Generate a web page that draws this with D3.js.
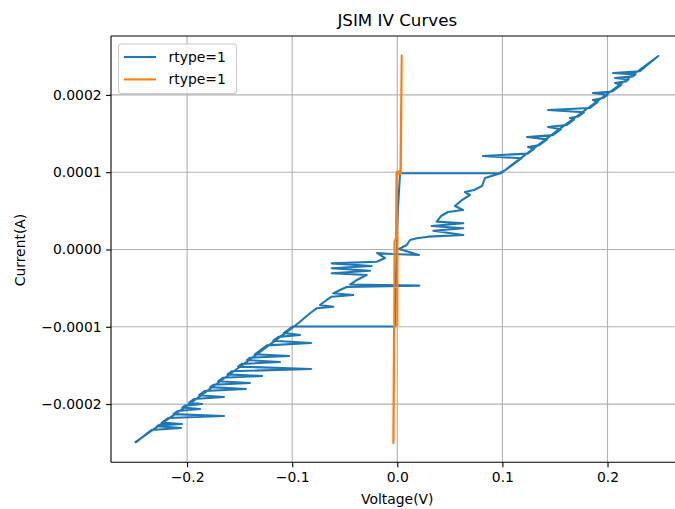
<!DOCTYPE html>
<html>
<head>
<meta charset="utf-8">
<script src="https://cdn.jsdelivr.net/npm/d3@7"></script>
<style>
  html, body { margin: 0; padding: 0; background: #ffffff; }
  svg { display: block; font-family: "DejaVu Sans", sans-serif; }
</style>
</head>
<body>
<svg id="chart" width="675" height="509"></svg>
<script>
// ---- data (voltage in V, current in A) ----
const seriesNames = ["rtype=1", "rtype=1"];
const xTicks = [-0.2, -0.1, 0.0, 0.1, 0.2];
const yTicks = [-0.0002, -0.0001, 0.0, 0.0001, 0.0002];
const xDomain = [-0.2724, 0.2724];
const yDomain = [-0.0002753, 0.0002762];

const blueCurve = [
  [-0.2480,-2.486e-4],
  [-0.2340,-2.335e-4],[-0.2058,-2.309e-4],[-0.2285,-2.285e-4],
  [-0.2275,-2.275e-4],[-0.2049,-2.257e-4],[-0.2240,-2.240e-4],
  [-0.2180,-2.180e-4],[-0.1649,-2.154e-4],[-0.2130,-2.130e-4],
  [-0.2090,-2.090e-4],[-0.1877,-2.063e-4],[-0.2045,-2.045e-4],
  [-0.2020,-2.020e-4],[-0.1858,-1.999e-4],[-0.1980,-1.980e-4],
  [-0.1935,-1.935e-4],[-0.1649,-1.908e-4],[-0.1885,-1.885e-4],
  [-0.1830,-1.830e-4],[-0.1440,-1.805e-4],[-0.1780,-1.780e-4],
  [-0.1750,-1.750e-4],[-0.1402,-1.727e-4],[-0.1705,-1.705e-4],
  [-0.1660,-1.660e-4],[-0.1286,-1.637e-4],[-0.1615,-1.615e-4],
  [-0.1575,-1.575e-4],[-0.0821,-1.546e-4],[-0.1515,-1.515e-4],
  [-0.1480,-1.480e-4],[-0.1116,-1.455e-4],[-0.1430,-1.430e-4],
  [-0.1400,-1.400e-4],[-0.1030,-1.378e-4],[-0.1355,-1.355e-4],
  [-0.1240,-1.240e-4],[-0.0821,-1.210e-4],[-0.1180,-1.180e-4],
  [-0.1130,-1.130e-4],[-0.0926,-1.106e-4],[-0.1080,-1.080e-4],
  [-0.0996,-0.996e-4],
  [-0.0022,-0.996e-4],
  [-0.0015,-0.500e-4],[0.0005,0.500e-4],[0.0026,0.986e-4],
  [0.0970,0.986e-4],
  [0.1030,1.030e-4],
  [0.1180,1.180e-4],[0.0815,1.210e-4],[0.1240,1.240e-4],
  [0.1300,1.300e-4],[0.1244,1.326e-4],[0.1350,1.350e-4],
  [0.1425,1.425e-4],[0.1234,1.455e-4],[0.1480,1.480e-4],
  [0.1555,1.555e-4],[0.1434,1.585e-4],[0.1610,1.610e-4],
  [0.1680,1.680e-4],[0.1643,1.701e-4],[0.1720,1.720e-4],
  [0.1775,1.775e-4],[0.1434,1.805e-4],[0.1830,1.830e-4],
  [0.1905,1.905e-4],[0.1862,1.934e-4],[0.1960,1.960e-4],
  [0.2000,2.000e-4],[0.1862,2.025e-4],[0.2045,2.045e-4],
  [0.2130,2.130e-4],[0.2072,2.154e-4],[0.2175,2.175e-4],
  [0.2200,2.200e-4],[0.2072,2.219e-4],[0.2240,2.240e-4],
  [0.2265,2.265e-4],[0.2053,2.283e-4],[0.2305,2.305e-4],
  [0.2483,2.503e-4],
  [0.2000,2.015e-4],[0.1500,1.515e-4],[0.0990,0.990e-4],
  [0.0834,0.925e-4],[0.0806,0.821e-4],[0.0730,0.770e-4],[0.0644,0.744e-4],
  [0.0691,0.705e-4],[0.0615,0.640e-4],[0.0549,0.563e-4],[0.0625,0.511e-4],
  [0.0482,0.485e-4],[0.0416,0.433e-4],[0.0375,0.360e-4],[0.0628,0.339e-4],
  [0.0327,0.304e-4],[0.0628,0.274e-4],[0.0343,0.243e-4],[0.0628,0.188e-4],
  [0.0295,0.166e-4],[0.0185,0.145e-4],[0.0121,0.123e-4],[0.0089,0.058e-4],
  [0.0016,0.006e-4],[0.0206,-0.071e-4],[-0.0050,-0.058e-4],[-0.0193,-0.045e-4],
  [-0.0117,-0.110e-4],[-0.0196,-0.158e-4],[-0.0624,-0.179e-4],[-0.0244,-0.213e-4],
  [-0.0624,-0.243e-4],[-0.0260,-0.274e-4],[-0.0624,-0.308e-4],[-0.0291,-0.330e-4],
  [-0.0386,-0.395e-4],[-0.0450,-0.453e-4],[0.0209,-0.468e-4],[-0.0481,-0.485e-4],
  [-0.0545,-0.524e-4],[-0.0609,-0.567e-4],[-0.0419,-0.589e-4],[-0.0624,-0.611e-4],
  [-0.0672,-0.653e-4],[-0.0736,-0.718e-4],[-0.0609,-0.740e-4],[-0.0767,-0.761e-4],
  [-0.0831,-0.825e-4],[-0.0926,-0.934e-4],
  [-0.1000,-1.015e-4],[-0.1500,-1.520e-4],[-0.2000,-2.020e-4],[-0.2490,-2.490e-4]
];

const orangeCurve = [
  [-0.0038,-2.499e-4],[-0.0031,-0.990e-4],[0.0000,-0.977e-4],[0.0002,0.123e-4],
  [-0.0003,0.252e-4],[-0.0006,1.003e-4],[0.0030,1.016e-4],[0.0042,2.510e-4],
  [0.0033,0.977e-4],[-0.0008,0.977e-4],[-0.0012,0.149e-4],[-0.0027,0.097e-4],
  [-0.0029,-0.990e-4],[-0.0036,-2.464e-4]
];

// ---- layout ----
const plot = { left: 111, top: 36, right: 683.6, bottom: 462.3 };
const svg = d3.select("#chart");
const x = d3.scaleLinear().domain(xDomain).range([plot.left, plot.right]);
const y = d3.scaleLinear().domain(yDomain).range([plot.bottom, plot.top]);
const minus = s => s.replace(/-/g, "\u2212");

svg.append("defs").append("clipPath").attr("id", "clip")
  .append("rect").attr("x", plot.left).attr("y", plot.top)
  .attr("width", plot.right - plot.left).attr("height", plot.bottom - plot.top);

// grid
const grid = svg.append("g");
grid.selectAll("line.gx").data(xTicks).join("line")
  .attr("x1", d => x(d)).attr("x2", d => x(d))
  .attr("y1", plot.top).attr("y2", plot.bottom)
  .attr("stroke", "#b0b0b0").attr("stroke-width", 1.1);
grid.selectAll("line.gy").data(yTicks).join("line")
  .attr("y1", d => y(d)).attr("y2", d => y(d))
  .attr("x1", plot.left).attr("x2", plot.right)
  .attr("stroke", "#b0b0b0").attr("stroke-width", 1.1);

// lines
const line = d3.line().x(d => x(d[0])).y(d => y(d[1]));
const lines = svg.append("g").attr("clip-path", "url(#clip)");
lines.append("path").datum(blueCurve).attr("d", line)
  .attr("fill", "none").attr("stroke", "#1f77b4").attr("stroke-width", 2.1)
  .attr("stroke-linejoin", "round").attr("stroke-linecap", "square");
lines.append("path").datum(orangeCurve).attr("d", line)
  .attr("fill", "none").attr("stroke", "#ff7f0e").attr("stroke-width", 2.1)
  .attr("stroke-linejoin", "round").attr("stroke-linecap", "square");

// axes
const xAxis = d3.axisBottom(x).tickValues(xTicks).tickSize(4.9).tickPadding(4.5)
  .tickFormat(d => minus(d3.format(".1f")(d)));
const yAxis = d3.axisLeft(y).tickValues(yTicks).tickSize(4.9).tickPadding(4.5)
  .tickFormat(d => minus(d3.format(".4f")(d)));

const gx = svg.append("g").attr("transform", `translate(0,${plot.bottom})`).call(xAxis);
const gy = svg.append("g").attr("transform", `translate(${plot.left},0)`).call(yAxis);
[gx, gy].forEach(g => {
  g.select(".domain").remove();
  g.selectAll(".tick line").attr("stroke", "#000").attr("stroke-width", 1.1);
  g.selectAll(".tick text").attr("fill", "#000").style("font-size", "13.9px")
    .style("font-family", "DejaVu Sans");
});

// spines
svg.append("line").attr("x1", plot.left).attr("x2", plot.left)
  .attr("y1", plot.top).attr("y2", plot.bottom).attr("stroke", "#000").attr("stroke-width", 1.1);
svg.append("line").attr("x1", plot.left).attr("x2", plot.right)
  .attr("y1", plot.bottom).attr("y2", plot.bottom).attr("stroke", "#000").attr("stroke-width", 1.1);
svg.append("line").attr("x1", plot.left).attr("x2", plot.right)
  .attr("y1", plot.top).attr("y2", plot.top).attr("stroke", "#000").attr("stroke-width", 1.1);
svg.append("line").attr("x1", plot.right).attr("x2", plot.right)
  .attr("y1", plot.top).attr("y2", plot.bottom).attr("stroke", "#000").attr("stroke-width", 1.1);

// titles
svg.append("text").attr("x", 397.3).attr("y", 26).attr("text-anchor", "middle")
  .style("font-size", "16.7px").text("JSIM IV Curves");
svg.append("text").attr("x", 397.3).attr("y", 504).attr("text-anchor", "middle")
  .style("font-size", "13.9px").text("Voltage(V)");
svg.append("text").attr("transform", "translate(25,250) rotate(-90)").attr("text-anchor", "middle")
  .style("font-size", "13.9px").text("Current(A)");

// legend
const legend = svg.append("g");
legend.append("rect").attr("x", 118.5).attr("y", 44).attr("width", 118).attr("height", 49.5)
  .attr("rx", 3).attr("fill", "#ffffff").attr("fill-opacity", 0.8)
  .attr("stroke", "#cccccc").attr("stroke-width", 1.1);
const legColors = ["#1f77b4", "#ff7f0e"];
seriesNames.forEach((name, i) => {
  const ly = 57 + i * 22.4;
  legend.append("line").attr("x1", 124).attr("x2", 156).attr("y1", ly).attr("y2", ly)
    .attr("stroke", legColors[i]).attr("stroke-width", 2.1);
  legend.append("text").attr("x", 168.5).attr("y", ly + 5).style("font-size", "13.9px").text(name);
});
</script>
</body>
</html>
